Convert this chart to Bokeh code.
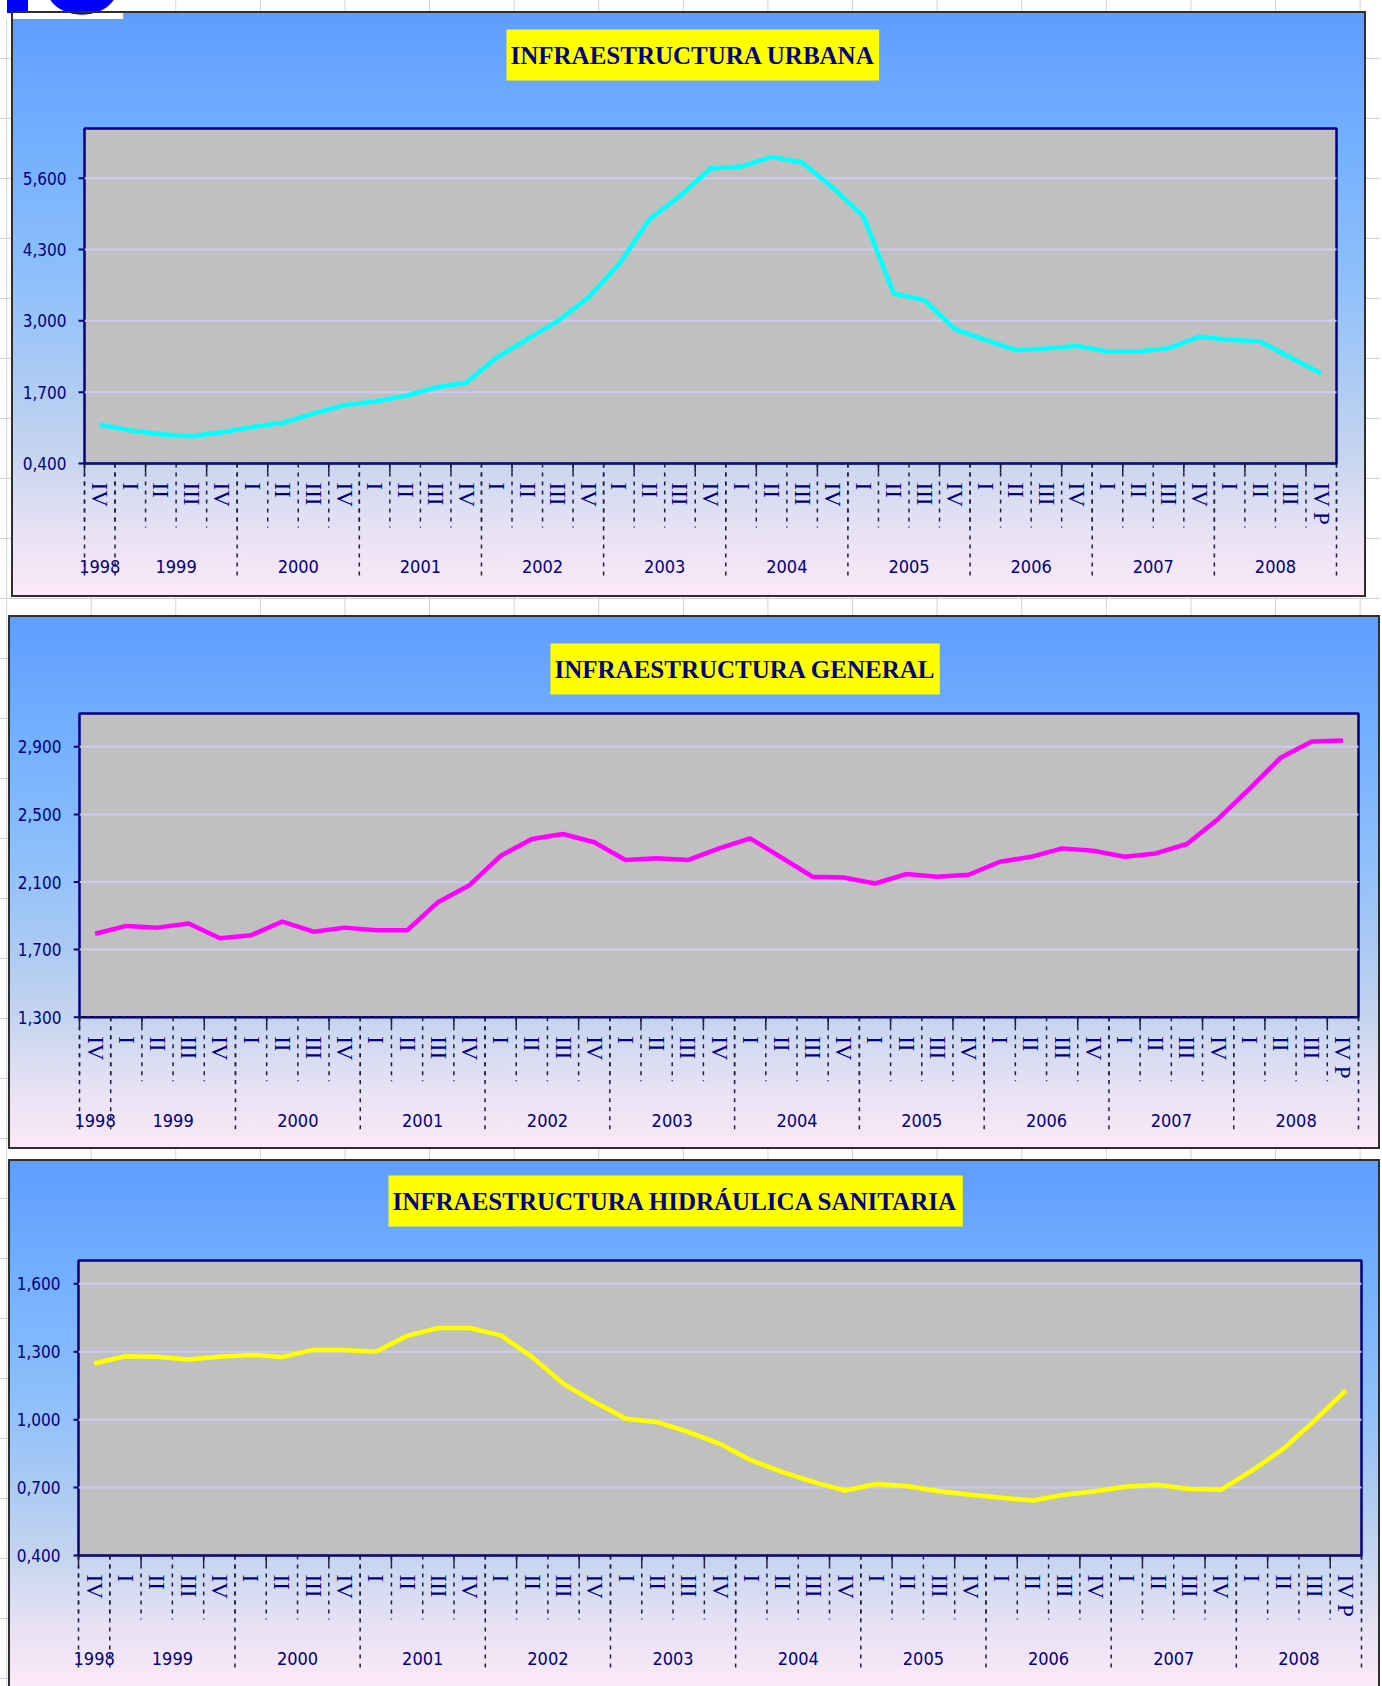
from bokeh.plotting import figure
from bokeh.models import (FactorRange, Range1d, LinearAxis, CategoricalAxis, FixedTicker,
                          CustomJSTickFormatter, BoxAnnotation, Title, ColumnDataSource, Grid)
from bokeh.layouts import column
from bokeh.embed import file_html
from bokeh.resources import INLINE
from bokeh.core.properties import value

# ---------------- data ----------------
years = ["1998", "1999", "2000", "2001", "2002", "2003", "2004", "2005", "2006", "2007", "2008"]
first_quarters = ["IV"]
quarters = ["I", "II", "III", "IV"]
last_quarters = ["I", "II", "III", "IV P"]

urbana = [1108, 1004, 932, 895, 970, 1065, 1141, 1311, 1463, 1530, 1633, 1785, 1876,
          2332, 2666, 3000, 3425, 4033, 4853, 5278, 5776, 5813, 5989, 5886, 5430, 4914,
          3498, 3383, 2848, 2654, 2466, 2496, 2544, 2441, 2441, 2502, 2709, 2654, 2623,
          2332, 2040]
general = [1794, 1840, 1830, 1854, 1767, 1785, 1866, 1806, 1830, 1814, 1814, 1982, 2081,
           2255, 2354, 2384, 2335, 2230, 2240, 2230, 2299, 2358, 2245, 2131, 2127, 2091,
           2147, 2131, 2143, 2220, 2249, 2299, 2285, 2249, 2269, 2325, 2473, 2651, 2835,
           2932, 2938]
hidraulica = [1248, 1280, 1278, 1266, 1278, 1286, 1277, 1308, 1308, 1300, 1370, 1405, 1405,
              1372, 1276, 1158, 1077, 1004, 989, 945, 893, 820, 768, 724, 687, 716, 706,
              684, 668, 655, 643, 668, 684, 705, 712, 694, 690, 775, 871, 996, 1129]

titles = ["INFRAESTRUCTURA URBANA", "INFRAESTRUCTURA GENERAL",
          "INFRAESTRUCTURA HIDRÁULICA SANITARIA"]
ticks_urbana = [400, 1700, 3000, 4300, 5600]
ticks_general = [1300, 1700, 2100, 2500, 2900]
ticks_hidraulica = [400, 700, 1000, 1300, 1600]

factors = ([(years[0], q) for q in first_quarters]
           + [(y, q) for y in years[1:-1] for q in quarters]
           + [(years[-1], q) for q in last_quarters])

# ---------------- style ----------------
NAVY = "#000080"
DARK = "#1c1c40"
EDGE = "#2e2e2e"
SERIF = "Liberation Serif"
SANS = "DejaVu Sans Condensed"
GRAD = ("linear-gradient(180deg, #5E9CFF 0%, #71AEFF 20%, #8DBFFB 45%, #ABCAF3 62%, "
        "#C6D5EF 76%, #E6E1F4 88%, #FCE9F7 100%)")
LOGO_P1 = ("radial-gradient(ellipse 35px 25px at 71px -21px, #0000FF 97%, transparent 100%) "
           "0 0 / 112px 8px no-repeat, "
           "linear-gradient(#0000FF, #0000FF) 0 0 / 17px 2px no-repeat, "
           "linear-gradient(#FFFFFF, #FFFFFF) 0 0 / 112px 8px no-repeat, ")
BORDER_ALL = f"inset 0 0 0 2px {EDGE}"
BORDER_LTB = f"inset 2px 0 0 {EDGE}, inset 0 2px 0 {EDGE}, inset 0 -2px 0 {EDGE}"
BORDER_LT = f"inset 2px 0 0 {EDGE}, inset 0 2px 0 {EDGE}"
BL, BR = 65, 22   # side borders (at least what the axes need)


def panel(title, series, color, ticks, X0, VIS_R, Y0, Y1, PL, PR, PT, AX, PB, k,
          box_left, box_bottom, margin, border, extra_bg=""):
    n = len(factors)
    ext = PL - (X0 + BL)                     # frame reaches this far beyond the plot area
    X1 = PR + ext + BR
    W, H = X1 - X0, Y1 - Y0
    FT = box_bottom + 2                      # frame top sits just under the title box
    bt, bb = FT - Y0, Y1 - PB
    FH = H - bt - bb
    A = AX - FT
    cw = (PR - PL) / n
    v0 = ticks[0]
    y_end = v0 + A * k
    y_start = v0 - (FH - A) * k
    plot_top = v0 + (AX - PT) * k
    bg = extra_bg
    if X1 > VIS_R:   # right edge of the panel drawn where the visible panel ends
        bg += f"linear-gradient({EDGE}, {EDGE}) {VIS_R - X0 - 2}px 0 / 2px 100% no-repeat, "
    p = figure(width=W, height=H,
               x_range=FactorRange(factors=factors, factor_padding=0, group_padding=0,
                                   subgroup_padding=0, range_padding=ext / cw,
                                   range_padding_units="absolute"),
               y_range=Range1d(y_start, y_end),
               x_axis_location=None, y_axis_location=None, title=None,
               toolbar_location=None, output_backend="svg",
               min_border_left=BL, min_border_right=BR, min_border_top=bt, min_border_bottom=bb,
               border_fill_color=None, background_fill_color=None, outline_line_color=None,
               margin=margin, styles={"background": bg + GRAD, "box-shadow": border})
    p.extra_y_ranges = {"px": Range1d(-(FH - A), A)}
    p.center = [r for r in p.center if not isinstance(r, Grid)]

    bx = [(f[0], f[1], -0.5) for f in factors] + [(factors[-1][0], factors[-1][1], 0.5)]

    # plot area
    p.add_layout(BoxAnnotation(left=0, right=n, bottom=v0, top=plot_top,
                               fill_color="#C0C0C0", fill_alpha=1,
                               line_color=NAVY, line_alpha=1, line_width=2.5, level="image"))
    gt = ticks[1:]
    p.segment(x0=[bx[0]] * len(gt), x1=[bx[-1]] * len(gt), y0=gt, y1=gt,
              line_color="#CBCBF0", line_width=2)
    # y tick marks
    tick_l = [(factors[0][0], factors[0][1], -0.5 - 6 / cw)] * len(ticks)
    p.segment(x0=tick_l, x1=[bx[0]] * len(ticks), y0=ticks, y1=ticks,
              line_color=NAVY, line_width=2)
    # dashed bottom edge
    p.segment(x0=[bx[0]], x1=[bx[-1]], y0=[v0], y1=[v0], line_color=DARK, line_width=2,
              line_dash="4 3")

    # category boundaries
    long_idx = [i for i in range(n + 1) if i == 0 or i == n or factors[i][0] != factors[i - 1][0]]
    p.segment(x0="x", y0="y0", x1="x", y1="y1", y_range_name="px",
              source=ColumnDataSource(dict(x=bx, y0=[0] * len(bx), y1=[-64] * len(bx))),
              line_color=DARK, line_width=1.5, line_dash="4 5")
    lx = [bx[i] for i in long_idx]
    p.segment(x0="x", y0="y0", x1="x", y1="y1", y_range_name="px",
              source=ColumnDataSource(dict(x=lx, y0=[0] * len(lx), y1=[-114] * len(lx))),
              line_color=DARK, line_width=1.5, line_dash="4 5")
    tx = bx[::2]
    p.segment(x0="x", y0="y0", x1="x", y1="y1", y_range_name="px",
              source=ColumnDataSource(dict(x=tx, y0=[0] * len(tx), y1=[-9] * len(tx))),
              line_color=DARK, line_width=1.5)

    p.line(x=factors, y=series, line_color=color, line_width=4.5, line_join="round")

    ya = LinearAxis(ticker=FixedTicker(ticks=ticks),
                    formatter=CustomJSTickFormatter(
                        code="return (tick/1000).toFixed(3).replace('.', ',');"),
                    axis_line_color=None, major_tick_line_color=None,
                    major_tick_out=0, major_tick_in=0, minor_tick_line_color=None,
                    major_label_standoff=PL - ext - 66 - X0 + X0 - BL + BL - 0 if False else
                    max(2, (PL - 18) - (X0 + BL - 0) + 0) if False else
                    (X0 + BL) - (PL - 18),
                    major_label_text_font=SANS,
                    major_label_text_font_size="17px", major_label_text_color=NAVY)
    p.add_layout(ya, "left")

    xa = CategoricalAxis(fixed_location=0, y_range_name="px",
                         axis_line_color=None,
                         major_tick_line_color=None, major_tick_out=0, major_tick_in=0,
                         major_label_orientation="vertical", major_label_standoff=19,
                         major_label_text_font=SERIF, major_label_text_font_size="23px",
                         major_label_text_color=NAVY,
                         group_text_color=None, separator_line_color=None)
    p.add_layout(xa, "below")

    # year labels (top-level factors of the range)
    p.text(x=years, y=[-103] * len(years), text=years, y_range_name="px",
           text_align="center", text_baseline="middle", text_font=value(SANS),
           text_font_size="18px", text_color=NAVY)

    p.add_layout(Title(text=title, align="left", offset=box_left - (X0 + BL),
                       vertical_align="bottom", standoff=0,
                       text_font=SERIF, text_font_style="bold", text_font_size="25px",
                       text_color=NAVY, background_fill_color="#FFFF00",
                       background_fill_alpha=1, padding=(4, 4, 12, 12)), "above")
    return p


p1 = panel(titles[0], urbana, "#00FFFF", ticks_urbana,
           X0=11, VIS_R=1368, Y0=11, Y1=597, PL=84, PR=1336, PT=128, AX=463, PB=578,
           k=5200 / 285.3, box_left=506, box_bottom=78,
           margin=(11, 0, 0, 11), border=BORDER_ALL, extra_bg=LOGO_P1)
p2 = panel(titles[1], general, "#FF00FF", ticks_general,
           X0=8, VIS_R=1380, Y0=615, Y1=1149, PL=79, PR=1358, PT=713, AX=1016.7, PB=1130,
           k=1600 / 270.4, box_left=550, box_bottom=692,
           margin=(18, 0, 0, 8), border=BORDER_LTB)
p3 = panel(titles[2], hidraulica, "#FFFF00", ticks_hidraulica,
           X0=8, VIS_R=1380, Y0=1159, Y1=1686, PL=78, PR=1361, PT=1260, AX=1555, PB=1672,
           k=1200 / 271.7, box_left=388, box_bottom=1224,
           margin=(10, 0, 0, 8), border=BORDER_LT)

PAGE_BG = ("radial-gradient(ellipse 35px 25px at 82px -10px, #0000FF 97%, transparent 100%) "
           "0 0 / 123px 19px no-repeat, "
           "linear-gradient(#0000FF, #0000FF) 7px 0 / 21px 13px no-repeat, "
           "linear-gradient(#FFFFFF, #FFFFFF) 0 0 / 123px 19px no-repeat, "
           "linear-gradient(90deg, #D2D2D2 1px, transparent 1px) 6.1px 58px / 84.6px 60px, "
           "linear-gradient(180deg, #D2D2D2 1px, transparent 1px) 6.1px 58px / 84.6px 60px, "
           "#FFFFFF")
page = column(p1, p2, p3, spacing=0, width=1380,
              styles={"background": PAGE_BG, "overflow": "hidden"})

open("out.html", "w").write(file_html(page, INLINE))
